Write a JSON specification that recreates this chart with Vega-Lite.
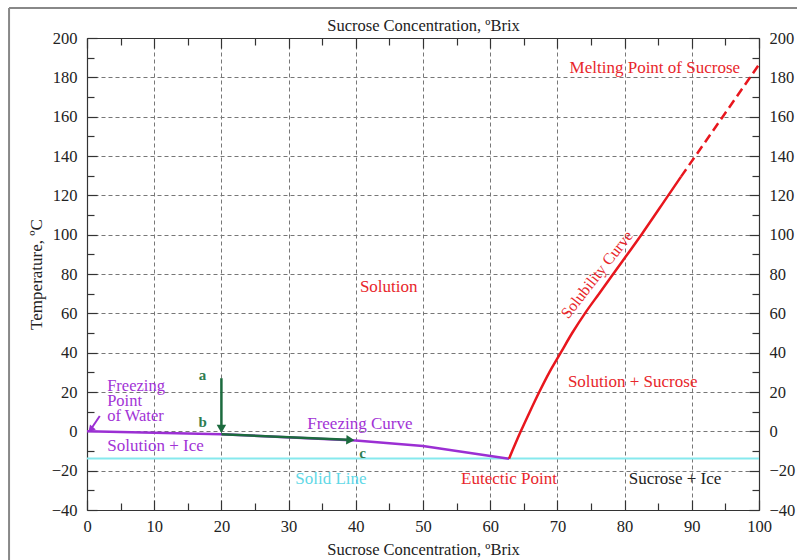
{
  "$schema": "https://vega.github.io/schema/vega-lite/v6.json",
  "width": 672,
  "height": 472,
  "autosize": "none",
  "padding": {"left": 87, "top": 38, "right": 38, "bottom": 50},
  "background": "white",
  "config": {
    "font": "Liberation Serif",
    "view": {"stroke": null},
    "axis": {
      "labelFont": "Liberation Serif", "titleFont": "Liberation Serif",
      "labelFontSize": 16.5, "titleFontSize": 16.5, "titleFontWeight": "normal",
      "labelColor": "#222", "titleColor": "#222",
      "domainColor": "#333", "tickColor": "#333", "domainWidth": 1.2, "tickWidth": 1.2,
      "labelOverlap": false, "labelFlush": false
    },
    "text": {"font": "Liberation Serif", "fontSize": 17}
  },
  "datasets": {
    "solid": [{"x": 0, "y": -13.8}, {"x": 100, "y": -13.8}],
    "freezing": [{"x": 0, "y": 0}, {"x": 20, "y": -1.5}, {"x": 40, "y": -4.6}, {"x": 50, "y": -7.5}, {"x": 62.8, "y": -13.9}],
    "solubility": [{"x": 62.8, "y": -13.9}, {"x": 64.55, "y": 0}, {"x": 65.9, "y": 10}, {"x": 67.3, "y": 20}, {"x": 68.8, "y": 30}, {"x": 70.5, "y": 40}, {"x": 72.2, "y": 50}, {"x": 74.1, "y": 60}, {"x": 76.2, "y": 70}, {"x": 78.3, "y": 80}, {"x": 82.5, "y": 100}, {"x": 86.5, "y": 120}, {"x": 88.4, "y": 129.5}],
    "melting": [{"x": 88.4, "y": 129.5}, {"x": 100, "y": 186.5}],
    "frameTop": [{"x": -11.6, "y": 215.3, "x2": 112, "y2": 215.3}],
    "frameLeft": [{"x": -11.6, "y": 215.3, "x2": -11.6, "y2": -70}],
    "arrowA": [{"x": 20, "y": 27, "x2": 20, "y2": 0.5}],
    "arrowB": [{"x": 20, "y": -1.5, "x2": 38.8, "y2": -4.3}],
    "arrowW": [{"x": 1.9, "y": 7.8, "x2": 0.6, "y2": 1.2}],
    "headA": [{"x": 20, "y": 1.2}],
    "headB": [{"x": 39.2, "y": -4.4}],
    "headW": [{"x": 0.55, "y": 0.9}],
    "redText": [
      {"x": 44.9, "y": 73.6, "label": "Solution"},
      {"x": 81.2, "y": 24.9, "label": "Solution + Sucrose"},
      {"x": 62.8, "y": -24.4, "label": "Eutectic Point"},
      {"x": 84.5, "y": 184.8, "label": "Melting Point of Sucrose"}
    ],
    "rotText": [{"x": 75.9, "y": 79.7, "label": "Solubility Curve"}],
    "purpleText": [
      {"x": 10.2, "y": -7.7, "label": "Solution + Ice"},
      {"x": 40.6, "y": 3.5, "label": "Freezing Curve"}
    ],
    "purpleLeft": [
      {"x": 3.0, "y": 23.0, "label": ["Freezing", "Point", "of Water"]}
    ],
    "cyanText": [{"x": 36.3, "y": -24.4, "label": "Solid Line"}],
    "blackText": [{"x": 87.5, "y": -24.4, "label": "Sucrose + Ice"}],
    "greenText": [
      {"x": 17.2, "y": 28.4, "label": "a"},
      {"x": 17.2, "y": 4.7, "label": "b"},
      {"x": 41.0, "y": -10.8, "label": "c"}
    ]
  },
  "layer": [
    {
      "data": {"name": "solid"},
      "mark": {"type": "line", "color": "#86e9ee", "strokeWidth": 2},
      "encoding": {
        "x": {"field": "x", "type": "quantitative", "scale": {"domain": [0, 100], "nice": false, "zero": false},
          "axis": {
            "orient": "bottom",
            "values": [0, 5, 10, 15, 20, 25, 30, 35, 40, 45, 50, 55, 60, 65, 70, 75, 80, 85, 90, 95, 100],
            "labelExpr": "datum.value % 10 === 0 ? datum.label : ''",
            "labelPadding": 18,
            "tickSize": {"condition": {"test": "datum.value % 10 === 0", "value": -10}, "value": -7},
            "grid": true, "gridColor": "#777", "gridDash": [4, 3], "gridWidth": 1,
            "gridOpacity": {"condition": {"test": "datum.value % 10 === 0 && datum.value > 0 && datum.value < 100", "value": 1}, "value": 0},
            "title": "Sucrose Concentration, ºBrix", "titlePadding": 4
          }},
        "y": {"field": "y", "type": "quantitative", "scale": {"domain": [-40, 200], "nice": false, "zero": false},
          "axis": {
            "orient": "left",
            "values": [-40, -30, -20, -10, 0, 10, 20, 30, 40, 50, 60, 70, 80, 90, 100, 110, 120, 130, 140, 150, 160, 170, 180, 190, 200],
            "labelExpr": "datum.value % 20 === 0 ? datum.label : ''",
            "labelPadding": 20,
            "tickSize": {"condition": {"test": "datum.value % 20 === 0", "value": -10}, "value": -7},
            "grid": true, "gridColor": "#777", "gridDash": [4, 3], "gridWidth": 1,
            "gridOpacity": {"condition": {"test": "datum.value % 20 === 0 && datum.value > -40 && datum.value < 200", "value": 1}, "value": 0},
            "title": "Temperature, ºC", "titlePadding": 6, "titleFontSize": 17
          }}
      }
    },
    {
      "data": {"name": "freezing"},
      "mark": {"type": "line", "color": "#9b2fd3", "strokeWidth": 2.5},
      "encoding": {
        "x": {"field": "x", "type": "quantitative", "scale": {"domain": [0, 100], "nice": false, "zero": false},
          "axis": {
            "orient": "top",
            "values": [0, 5, 10, 15, 20, 25, 30, 35, 40, 45, 50, 55, 60, 65, 70, 75, 80, 85, 90, 95, 100],
            "labels": false,
            "tickSize": {"condition": {"test": "datum.value % 10 === 0", "value": -10}, "value": -7},
            "grid": false,
            "title": "Sucrose Concentration, ºBrix", "titlePadding": 4
          }},
        "y": {"field": "y", "type": "quantitative", "scale": {"domain": [-40, 200], "nice": false, "zero": false},
          "axis": {
            "orient": "right",
            "values": [-40, -30, -20, -10, 0, 10, 20, 30, 40, 50, 60, 70, 80, 90, 100, 110, 120, 130, 140, 150, 160, 170, 180, 190, 200],
            "labelExpr": "datum.value % 20 === 0 ? datum.label : ''",
            "labelPadding": 20,
            "tickSize": {"condition": {"test": "datum.value % 20 === 0", "value": -10}, "value": -7},
            "grid": false,
            "title": null
          }}
      }
    },
    {
      "data": {"name": "solubility"},
      "mark": {"type": "line", "color": "#e8161d", "strokeWidth": 2.5, "interpolate": "monotone"},
      "encoding": {
        "x": {"field": "x", "type": "quantitative", "axis": null},
        "y": {"field": "y", "type": "quantitative", "axis": null}
      }
    },
    {
      "data": {"name": "melting"},
      "mark": {"type": "line", "color": "#e8161d", "strokeWidth": 2.5, "strokeDash": [9, 5]},
      "encoding": {
        "x": {"field": "x", "type": "quantitative", "axis": null},
        "y": {"field": "y", "type": "quantitative", "axis": null}
      }
    },
    {
      "data": {"name": "frameTop"},
      "mark": {"type": "rule", "color": "#888", "strokeWidth": 2, "clip": false},
      "encoding": {
        "x": {"field": "x", "type": "quantitative", "axis": null},
        "y": {"field": "y", "type": "quantitative", "axis": null},
        "x2": {"field": "x2"},
        "y2": {"field": "y2"}
      }
    },
    {
      "data": {"name": "frameLeft"},
      "mark": {"type": "rule", "color": "#888", "strokeWidth": 2, "clip": false},
      "encoding": {
        "x": {"field": "x", "type": "quantitative", "axis": null},
        "y": {"field": "y", "type": "quantitative", "axis": null},
        "x2": {"field": "x2"},
        "y2": {"field": "y2"}
      }
    },
    {
      "data": {"name": "arrowA"},
      "mark": {"type": "rule", "color": "#1c6b3e", "strokeWidth": 2.5},
      "encoding": {
        "x": {"field": "x", "type": "quantitative", "axis": null},
        "y": {"field": "y", "type": "quantitative", "axis": null},
        "x2": {"field": "x2"},
        "y2": {"field": "y2"}
      }
    },
    {
      "data": {"name": "arrowB"},
      "mark": {"type": "rule", "color": "#1c6b3e", "strokeWidth": 2.5},
      "encoding": {
        "x": {"field": "x", "type": "quantitative", "axis": null},
        "y": {"field": "y", "type": "quantitative", "axis": null},
        "x2": {"field": "x2"},
        "y2": {"field": "y2"}
      }
    },
    {
      "data": {"name": "arrowW"},
      "mark": {"type": "rule", "color": "#9b2fd3", "strokeWidth": 2},
      "encoding": {
        "x": {"field": "x", "type": "quantitative", "axis": null},
        "y": {"field": "y", "type": "quantitative", "axis": null},
        "x2": {"field": "x2"},
        "y2": {"field": "y2"}
      }
    },
    {
      "data": {"name": "headA"},
      "mark": {"type": "point", "shape": "triangle-down", "filled": true, "color": "#1c6b3e", "size": 90, "opacity": 1},
      "encoding": {
        "x": {"field": "x", "type": "quantitative", "axis": null},
        "y": {"field": "y", "type": "quantitative", "axis": null}
      }
    },
    {
      "data": {"name": "headB"},
      "mark": {"type": "point", "shape": "triangle-right", "filled": true, "color": "#1c6b3e", "size": 90, "angle": 3, "opacity": 1},
      "encoding": {
        "x": {"field": "x", "type": "quantitative", "axis": null},
        "y": {"field": "y", "type": "quantitative", "axis": null}
      }
    },
    {
      "data": {"name": "headW"},
      "mark": {"type": "point", "shape": "triangle-up", "filled": true, "color": "#9b2fd3", "size": 60, "angle": 221, "opacity": 1},
      "encoding": {
        "x": {"field": "x", "type": "quantitative", "axis": null},
        "y": {"field": "y", "type": "quantitative", "axis": null}
      }
    },
    {
      "data": {"name": "redText"},
      "mark": {"type": "text", "color": "#e8262b", "fontSize": 17, "align": "center", "baseline": "middle"},
      "encoding": {
        "x": {"field": "x", "type": "quantitative", "axis": null},
        "y": {"field": "y", "type": "quantitative", "axis": null},
        "text": {"field": "label"}
      }
    },
    {
      "data": {"name": "rotText"},
      "mark": {"type": "text", "color": "#e8262b", "fontSize": 16, "align": "center", "baseline": "middle", "angle": 308},
      "encoding": {
        "x": {"field": "x", "type": "quantitative", "axis": null},
        "y": {"field": "y", "type": "quantitative", "axis": null},
        "text": {"field": "label"}
      }
    },
    {
      "data": {"name": "purpleText"},
      "mark": {"type": "text", "color": "#a233d6", "fontSize": 17, "align": "center", "baseline": "middle"},
      "encoding": {
        "x": {"field": "x", "type": "quantitative", "axis": null},
        "y": {"field": "y", "type": "quantitative", "axis": null},
        "text": {"field": "label"}
      }
    },
    {
      "data": {"name": "purpleLeft"},
      "mark": {"type": "text", "color": "#a233d6", "fontSize": 16.5, "lineHeight": 14.8, "align": "left", "baseline": "middle"},
      "encoding": {
        "x": {"field": "x", "type": "quantitative", "axis": null},
        "y": {"field": "y", "type": "quantitative", "axis": null},
        "text": {"field": "label"}
      }
    },
    {
      "data": {"name": "cyanText"},
      "mark": {"type": "text", "color": "#5fd8e6", "fontSize": 17, "align": "center", "baseline": "middle"},
      "encoding": {
        "x": {"field": "x", "type": "quantitative", "axis": null},
        "y": {"field": "y", "type": "quantitative", "axis": null},
        "text": {"field": "label"}
      }
    },
    {
      "data": {"name": "blackText"},
      "mark": {"type": "text", "color": "#222", "fontSize": 17, "align": "center", "baseline": "middle"},
      "encoding": {
        "x": {"field": "x", "type": "quantitative", "axis": null},
        "y": {"field": "y", "type": "quantitative", "axis": null},
        "text": {"field": "label"}
      }
    },
    {
      "data": {"name": "greenText"},
      "mark": {"type": "text", "color": "#2e7d4f", "fontSize": 15, "fontWeight": "bold", "align": "center", "baseline": "middle"},
      "encoding": {
        "x": {"field": "x", "type": "quantitative", "axis": null},
        "y": {"field": "y", "type": "quantitative", "axis": null},
        "text": {"field": "label"}
      }
    }
  ],
  "resolve": {"axis": {"x": "independent", "y": "independent"}}
}
